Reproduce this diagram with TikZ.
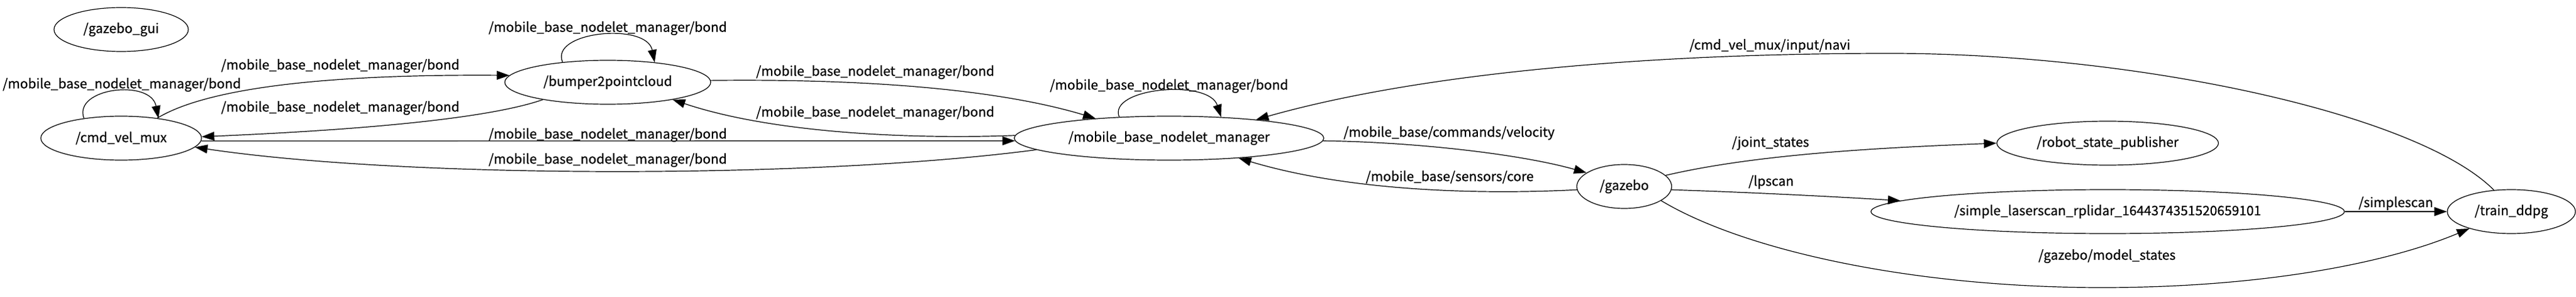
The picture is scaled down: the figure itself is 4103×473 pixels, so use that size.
\documentclass[tikz,border=0pt]{standalone}
\usepackage{fontspec}
\setmainfont[FakeBold=0.4]{Noto Sans CJK SC}
\usetikzlibrary{arrows.meta,shapes.geometric}
\begin{document}
\begin{tikzpicture}[x=1pt,y=-1pt,
  font=\fontsize{21}{25}\selectfont,
  line width=1.2pt,
  nd/.style={ellipse,draw,minimum height=70pt,inner sep=0pt},
  lbl/.style={inner sep=0pt},
  edge/.style={-{Triangle[length=20pt,width=14pt]}}]
\useasboundingbox (0,0) rectangle (4103,473);
% nodes
\node[nd,minimum width=214pt] (gui) at (193,47) {/gazebo\_gui};
\node[nd,minimum width=256pt] (cmd) at (193,220) {/cmd\_vel\_mux};
\node[nd,minimum width=328pt] (bump) at (968,131) {/bumper2pointcloud};
\node[nd,minimum width=493pt] (mbnm) at (1862,220) {/mobile\_base\_nodelet\_manager};
\node[nd,minimum width=151pt] (gz) at (2587,297) {/gazebo};
\node[nd,minimum width=353pt] (rsp) at (3357,228) {/robot\_state\_publisher};
\node[nd,minimum width=754pt] (sl) at (3357,337) {/simple\_laserscan\_rplidar\_1644374351520659101};
\node[nd,minimum width=204pt] (td) at (4000,337) {/train\_ddpg};
% edges
\draw[edge] (cmd.152) .. controls (116,140) and (240,125) .. (cmd.28);
\node[lbl] (l1) at (194,135) {/mobile\_base\_nodelet\_manager/bond};
\draw[edge] (cmd.29) .. controls (330,140) and (520,118) .. (bump.176);
\node[lbl] (l2) at (542,105) {/mobile\_base\_nodelet\_manager/bond};
\draw[edge] (bump.195) .. controls (760,195) and (500,210) .. (cmd.1);
\node[lbl] (l3) at (542,172) {/mobile\_base\_nodelet\_manager/bond};
\draw[edge] (cmd.-2) -- (mbnm.181);
\node[lbl] (l4) at (968,215) {/mobile\_base\_nodelet\_manager/bond};
\draw[edge] (mbnm.185.2) .. controls (1300,285) and (650,285) .. (cmd.-7.3);
\node[lbl] (l5) at (968,255) {/mobile\_base\_nodelet\_manager/bond};
\draw[edge] (bump.156.5) .. controls (875,50) and (1030,35) .. (bump.23.5);
\node[lbl] (l6) at (968,45) {/mobile\_base\_nodelet\_manager/bond};
\draw[edge] (bump.1) .. controls (1400,125) and (1600,145) .. (mbnm.165);
\node[lbl] (l7) at (1394,115) {/mobile\_base\_nodelet\_manager/bond};
\draw[edge] (mbnm.179.5) .. controls (1450,222) and (1230,212) .. (bump.-15);
\node[lbl] (l8) at (1394,180) {/mobile\_base\_nodelet\_manager/bond};
\draw[edge] (mbnm.157.8) .. controls (1764,140) and (1925,125) .. (mbnm.22.5);
\node[lbl] (l9) at (1862,137) {/mobile\_base\_nodelet\_manager/bond};
\coordinate (navitop) at (3010,85);
\draw[edge] (td.129.6) .. controls (3850,180) and (3400,85) .. (navitop)
  .. controls (2600,85) and (2250,120) .. (mbnm.12);
\node[lbl] (l10) at (2819,73) {/cmd\_vel\_mux/input/navi};
\draw[edge] (mbnm.-1) .. controls (2250,226) and (2420,245) .. (gz.160.5);
\node[lbl] (l11) at (2308,212) {/mobile\_base/commands/velocity};
\draw[edge] (gz.184) .. controls (2340,311) and (2140,302) .. (mbnm.-16.4);
\node[lbl] (l12) at (2309,282) {/mobile\_base/sensors/core};
\draw[edge] (gz.15.3) .. controls (2800,245) and (3000,235) .. (rsp.180);
\node[lbl] (l13) at (2820,228) {/joint\_states};
\draw[edge] (gz.-4) .. controls (2780,306) and (2920,313) .. (sl.177.4);
\node[lbl] (l14) at (2821,290) {/lpscan};
\draw[edge] (sl.0) -- (td.180);
\node[lbl] (l15) at (3816,324) {/simplescan};
\coordinate (msbot) at (3348,458);
\draw[edge] (gz.-21) .. controls (2780,400) and (3050,458) .. (msbot)
  .. controls (3600,458) and (3800,420) .. (td.202.6);
\node[lbl] (l16) at (3356,408) {/gazebo/model\_states};
\end{tikzpicture}
\end{document}
